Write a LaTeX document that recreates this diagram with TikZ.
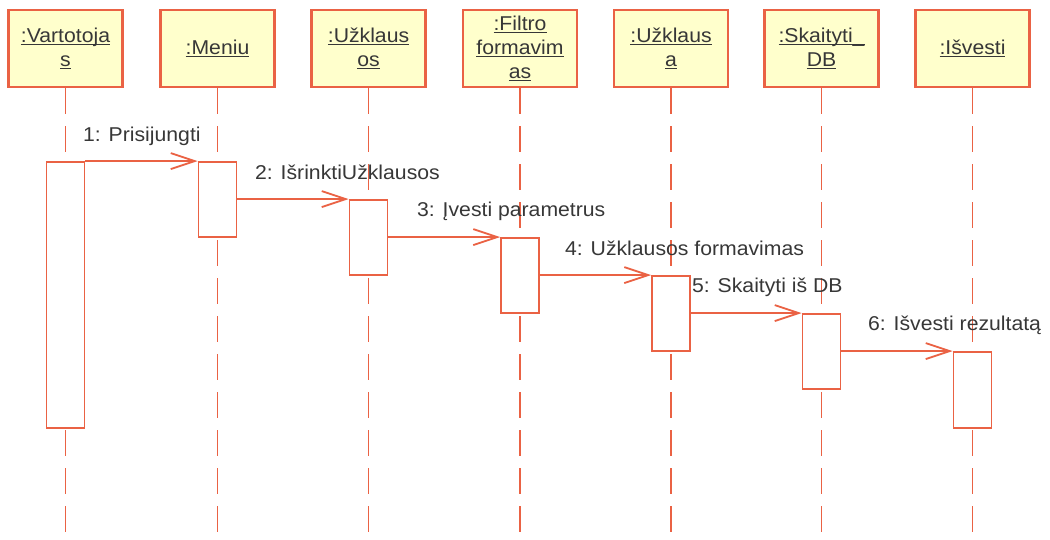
\documentclass[tikz,border=0pt]{standalone}
\usepackage{fontspec}
\setmainfont{Liberation Sans}[FakeStretch=1.06]
\usetikzlibrary{arrows.meta}

\definecolor{umlline}{RGB}{234,98,68}
\definecolor{umlbox}{RGB}{255,255,204}
\definecolor{umltext}{RGB}{55,55,55}
% underlined object name, rule placed just under the baseline
\newcommand\objname[1]{\sbox0{#1}\rlap{\rule[-3pt]{\wd0}{1.4pt}}\usebox0}

\begin{document}
\begin{tikzpicture}[x=1pt,y=-1pt,
  objbox/.style={draw=umlline, fill=umlbox, line width=2.2pt,
    minimum width=114pt, minimum height=77pt, inner sep=0pt,
    align=center, text=umltext, font=\fontsize{20}{24}\selectfont},
  lifeline/.style={draw=umlline, line width=1.8pt, dash pattern=on 26pt off 12pt},
  actbar/.style={draw=umlline, fill=white, line width=1.8pt,
    minimum width=38pt, inner sep=0pt},
  msg/.style={draw=umlline, line width=1.8pt,
    -{Straight Barb[length=24pt, width=16pt, line width=1.8pt]}},
  msglabel/.style={anchor=base west, inner sep=0pt, text=umltext,
    font=\fontsize{20}{24}\selectfont}]
\useasboundingbox (0,0) rectangle (1050,539);

% object heads
\node[objbox] (o1) at (65.5,48.5) {\objname{:Vartotoja}\\\objname{s}};
\node[objbox] (o2) at (217.5,48.5) {\objname{:Meniu}};
\node[objbox] (o3) at (368.5,48.5) {\objname{:Užklaus}\\\objname{os}};
\node[objbox] (o4) at (520,48.5) {\objname{:Filtro}\\\objname{formavim}\\\objname{as}};
\node[objbox] (o5) at (671,48.5) {\objname{:Užklaus}\\\objname{a}};
\node[objbox] (o6) at (821.5,48.5) {\objname{:Skaityti\_}\\\objname{DB}};
\node[objbox] (o7) at (972.5,48.5) {\objname{:Išvesti}};

% lifeline ends
\coordinate (e1) at (65.5,539);
\coordinate (e2) at (217.5,539);
\coordinate (e3) at (368.5,539);
\coordinate (e4) at (520,539);
\coordinate (e5) at (671,539);
\coordinate (e6) at (821.5,539);
\coordinate (e7) at (972.5,539);

\foreach \i in {1,...,7} \draw[lifeline] (o\i.south) -- (e\i);

% activation bars
\node[actbar, minimum height=266pt] (a1) at (65.5,295) {};
\node[actbar, minimum height=75pt] (a2) at (217.5,199.5) {};
\node[actbar, minimum height=75pt] (a3) at (368.5,237.5) {};
\node[actbar, minimum height=75pt] (a4) at (520,275.5) {};
\node[actbar, minimum height=75pt] (a5) at (671,313.5) {};
\node[actbar, minimum height=75pt] (a6) at (821.5,351.5) {};
\node[actbar, minimum height=76pt] (a7) at (972.5,390) {};

% messages
\draw[msg] (a1.north east) -- (a2.north west);
\draw[msg] (a2.east |- a3.north) -- (a3.north west);
\draw[msg] (a3.east |- a4.north) -- (a4.north west);
\draw[msg] (a4.east |- a5.north) -- (a5.north west);
\draw[msg] (a5.east |- a6.north) -- (a6.north west);
\draw[msg] (a6.east |- a7.north) -- (a7.north west);

% message labels
\node[msglabel] (m1) at (83,141) {1: Prisijungti};
\node[msglabel] (m2) at (255,179) {2: IšrinktiUžklausos};
\node[msglabel] (m3) at (417,216) {3: Įvesti parametrus};
\node[msglabel] (m4) at (565,255) {4: Užklausos formavimas};
\node[msglabel] (m5) at (692,292) {5: Skaityti iš DB};
\node[msglabel] (m6) at (868,330) {6: Išvesti rezultatą};
\end{tikzpicture}
\end{document}
